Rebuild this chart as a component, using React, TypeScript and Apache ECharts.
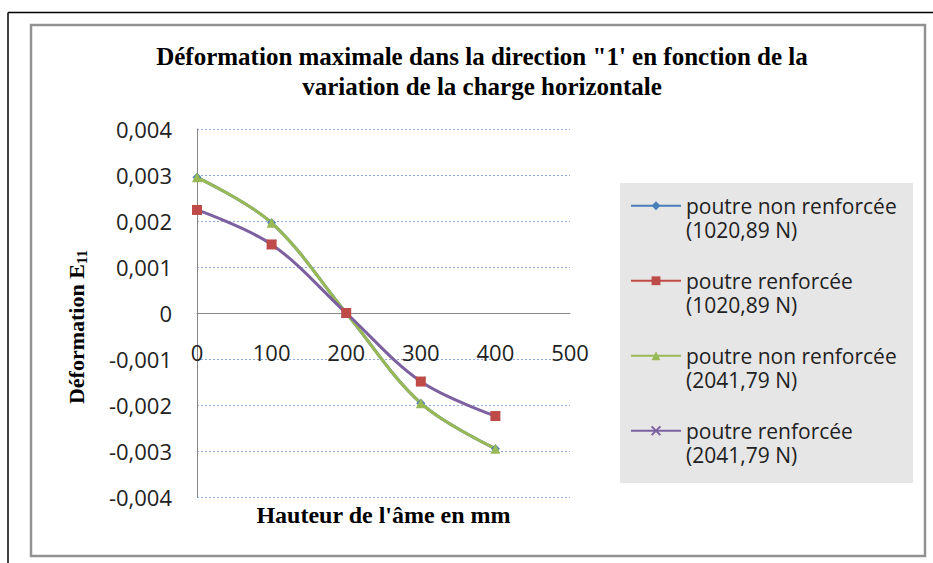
import React, { useEffect, useRef } from "react";
import * as echarts from "echarts";

const xValues = [0, 100, 200, 300, 400];
const nonRenf1020 = [0.00295, 0.00196, 0, -0.00196, -0.00295];
const renf1020 = [0.00224, 0.00149, 0, -0.00149, -0.00224];
const nonRenf2041 = [0.00295, 0.00196, 0, -0.00196, -0.00295];
const renf2041 = [0.00224, 0.00149, 0, -0.00149, -0.00224];

const seriesNames = [
  "poutre non renforcée\n(1020,89 N)",
  "poutre renforcée\n(1020,89 N)",
  "poutre non renforcée\n(2041,79 N)",
  "poutre renforcée\n(2041,79 N)",
];
const seriesColors = ["#4A7EBB", "#BE4B48", "#98B954", "#7D60A0"];

const titleText =
  "Déformation maximale dans la direction \"1' en fonction de la\nvariation de la charge horizontale";
const xAxisName = "Hauteur de l'âme en mm";

const pairs = (ys: number[]) => xValues.map((x, i) => [x, ys[i]]);

const SANS = "'Open Sans', 'Noto Sans', sans-serif";
const SERIF = "'Liberation Serif', 'DejaVu Serif', serif";

const GRID_TOP = 129;
const GRID_HEIGHT = 368;

export default function App() {
  const ref = useRef<HTMLDivElement>(null);
  useEffect(() => {
    if (!ref.current) return;
    const chart = echarts.init(ref.current, null, { renderer: "svg" });
    const base = (name: string, color: string, data: number[], extra: any) => ({
      type: "line",
      name,
      data: pairs(data),
      smooth: 0.35,
      symbolSize: 10,
      lineStyle: { color, width: 3 },
      itemStyle: { color },
      ...extra,
    });
    chart.setOption({
      animation: false,
      backgroundColor: "#ffffff",
      title: {
        text: titleText,
        left: 477,
        top: 36,
        textAlign: "center",
        textStyle: {
          fontFamily: SERIF,
          fontWeight: "bold",
          fontSize: 25,
          lineHeight: 30,
          color: "#000",
        },
      },
      grid: {
        left: 197,
        right: 363,
        top: GRID_TOP,
        height: GRID_HEIGHT,
        containLabel: false,
        outerBoundsMode: "none",
      },
      xAxis: {
        type: "value",
        min: 0,
        max: 500,
        interval: 100,
        // axis sits on the y = 0 line (middle of the symmetric y range)
        offset: -GRID_HEIGHT / 2,
        name: xAxisName,
        nameLocation: "middle",
        nameGap: 190,
        nameTextStyle: { fontFamily: SERIF, fontWeight: "bold", fontSize: 24, color: "#000" },
        axisLine: { onZero: false, lineStyle: { color: "#868686", width: 1 } },
        axisTick: { show: false },
        splitLine: { show: false },
        axisLabel: { margin: 28, fontFamily: SANS, fontSize: 22, color: "#222" },
      },
      yAxis: {
        type: "value",
        min: -0.004,
        max: 0.004,
        interval: 0.001,
        name: "{m|Déformation E}{s|11}",
        nameLocation: "middle",
        nameGap: 108,
        nameTextStyle: {
          padding: [0, 28, 0, 0],
          rich: {
            m: { fontFamily: SERIF, fontWeight: "bold", fontSize: 22, color: "#000" },
            s: {
              fontFamily: SERIF,
              fontWeight: "bold",
              fontSize: 15,
              color: "#000",
              padding: [10, 0, 0, 0],
            },
          },
        },
        axisLine: { show: true, lineStyle: { color: "#868686", width: 1 } },
        axisTick: { show: false },
        splitLine: {
          show: true,
          lineStyle: { color: "#8EA9D8", type: [2, 2], width: 1 },
        },
        axisLabel: {
          margin: 25,
          fontFamily: SANS,
          fontSize: 22,
          color: "#222",
          formatter: (v: number) =>
            Math.abs(v) < 1e-9 ? "0" : v.toFixed(3).replace(".", ","),
        },
      },
      legend: {
        orient: "vertical",
        left: 625,
        top: 164,
        itemGap: 1.5,
        itemWidth: 50,
        itemHeight: 11,
        formatter: (name: string) => "\n" + name,
        data: [
          { name: seriesNames[0] },
          { name: seriesNames[1], lineStyle: { opacity: 1 } },
          { name: seriesNames[2] },
          { name: seriesNames[3] },
        ],
        textStyle: {
          fontFamily: SANS,
          fontSize: 21,
          lineHeight: 24.5,
          color: "#222",
        },
      },
      graphic: [
        {
          type: "line",
          z: -10,
          shape: { x1: 8, y1: 12.5, x2: 933, y2: 12.5 },
          style: { stroke: "#000", lineWidth: 1.5 },
        },
        {
          type: "line",
          z: -10,
          shape: { x1: 8, y1: 12.5, x2: 8, y2: 563 },
          style: { stroke: "#000", lineWidth: 1.5 },
        },
        {
          type: "rect",
          z: -10,
          shape: { x: 31, y: 25, width: 894, height: 531 },
          style: { fill: "#ffffff", stroke: "#929292", lineWidth: 2.5 },
        },
        {
          type: "rect",
          z: -5,
          shape: { x: 620, y: 183, width: 293, height: 300 },
          style: { fill: "#e6e6e6" },
        },
      ],
      series: [
        base(seriesNames[0], seriesColors[0], nonRenf1020, { symbol: "diamond", symbolSize: 9, z: 2 }),
        base(seriesNames[1], seriesColors[1], renf1020, {
          symbol: "rect",
          symbolSize: 10,
          z: 4,
          lineStyle: { color: seriesColors[1], width: 3, opacity: 0 },
        }),
        base(seriesNames[2], seriesColors[2], nonRenf2041, { symbol: "triangle", symbolSize: 10, z: 2 }),
        base(seriesNames[3], seriesColors[3], renf2041, {
          symbol: "path://M0,0L10,10M10,0L0,10",
          symbolSize: 9,
          z: 3,
          itemStyle: { color: "none", borderColor: seriesColors[3], borderWidth: 1.5 },
        }),
      ],
    });
    return () => chart.dispose();
  }, []);
  return (
    <div
      ref={ref}
      style={{ position: "absolute", left: 0, top: 0, width: 933, height: 563 }}
    />
  );
}
